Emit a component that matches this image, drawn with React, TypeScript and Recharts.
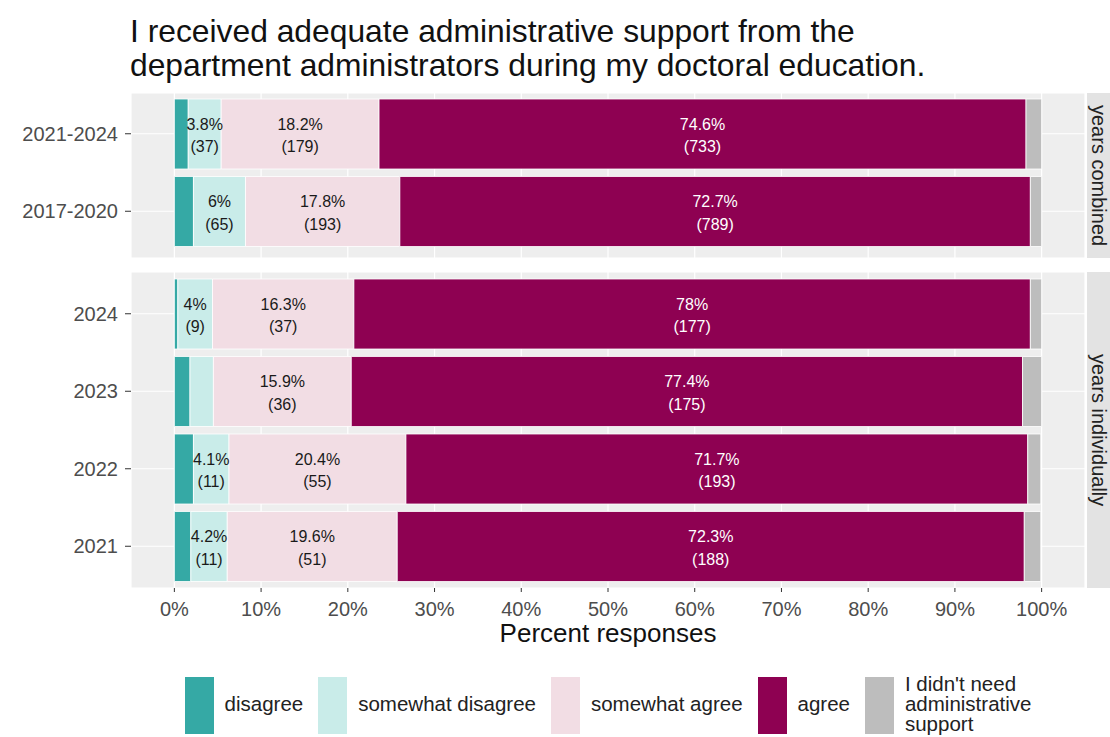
import React from 'react';
import { BarChart, Bar, XAxis, YAxis, CartesianGrid, LabelList } from 'recharts';

// rows, top to bottom
const years = ['2021-2024', '2017-2020', '2024', '2023', '2022', '2021'];
const facetOf = [
  'years combined',
  'years combined',
  'years individually',
  'years individually',
  'years individually',
  'years individually',
];
const facets = ['years combined', 'years individually'];

// percent of responses, and counts
const disagreePct = [1.6, 2.2, 0.4, 1.8, 2.2, 1.9];
const disagreeN = [16, 24, 1, 4, 6, 5];
const somewhatDisagreePct = [3.8, 6, 4, 2.7, 4.1, 4.2];
const somewhatDisagreeN = [37, 65, 9, 6, 11, 11];
const somewhatAgreePct = [18.2, 17.8, 16.3, 15.9, 20.4, 19.6];
const somewhatAgreeN = [179, 193, 37, 36, 55, 51];
const agreePct = [74.6, 72.7, 78, 77.4, 71.7, 72.3];
const agreeN = [733, 789, 177, 175, 193, 188];
const noNeedPct = [1.8, 1.3, 1.3, 2.2, 1.5, 1.9];
const noNeedN = [18, 14, 3, 5, 4, 5];

const xTicks = [0, 10, 20, 30, 40, 50, 60, 70, 80, 90, 100];

const FONT = '"Liberation Sans", Arial, Helvetica, sans-serif';

const series = [
  { key: 'disagree', name: 'disagree', color: '#35a9a5', text: '#1a1a1a', pct: disagreePct, n: disagreeN },
  { key: 'somewhatDisagree', name: 'somewhat disagree', color: '#c9ece9', text: '#1a1a1a', pct: somewhatDisagreePct, n: somewhatDisagreeN },
  { key: 'somewhatAgree', name: 'somewhat agree', color: '#f2dde4', text: '#1a1a1a', pct: somewhatAgreePct, n: somewhatAgreeN },
  { key: 'agree', name: 'agree', color: '#8e0152', text: '#ffffff', pct: agreePct, n: agreeN },
  { key: 'noNeed', name: "I didn't need\nadministrative\nsupport", color: '#bdbdbd', text: '#1a1a1a', pct: noNeedPct, n: noNeedN },
];

const buildRows = (facet: string) =>
  years
    .map((year, i) => ({ year, i }))
    .filter(({ i }) => facetOf[i] === facet)
    .map(({ year, i }) => {
      const row: any = { year };
      series.forEach((s) => {
        row[s.key] = s.pct[i];
        // small segments and the "no need" segment carry no label
        row[s.key + 'Label'] = s.pct[i] >= 3 && s.key !== 'noNeed' ? `${s.pct[i]}%|(${s.n[i]})` : '';
      });
      return row;
    });

const makeLabel = (color: string) => (props: any) => {
  const box = props.viewBox || props;
  const { x, y, width, height } = box;
  if (!props.value) return null;
  const [pct, count] = String(props.value).split('|');
  const cx = Number(x) + Number(width) / 2;
  const cy = Number(y) + Number(height) / 2;
  return (
    <g>
      <text x={cx} y={cy - 10} textAnchor="middle" dominantBaseline="central" fill={color} fontSize={16} fontFamily={FONT}>
        {pct}
      </text>
      <text x={cx} y={cy + 12.5} textAnchor="middle" dominantBaseline="central" fill={color} fontSize={16} fontFamily={FONT}>
        {count}
      </text>
    </g>
  );
};

function Panel({ facet, top, height, pad, showX }: { facet: string; top: number; height: number; pad: { top: number; bottom: number }; showX: boolean }) {
  const data = buildRows(facet);
  return (
    <>
      <div style={{ position: 'absolute', left: 0, top }}>
        <BarChart
          width={1085}
          height={height + (showX ? 40 : 0)}
          data={data}
          layout="vertical"
          margin={{ top: 0, right: 0, bottom: 0, left: 0 }}
          barSize={70}
        >
          <CartesianGrid fill="#eeeeee" stroke="#ffffff" strokeWidth={1.2} />
          <XAxis
            type="number"
            domain={[-5, 105]}
            ticks={xTicks}
            hide={!showX}
            height={40}
            tickFormatter={(v: number) => `${v}%`}
            axisLine={false}
            tickSize={4}
            tickMargin={10}
            tickLine={{ stroke: '#333333' }}
            tick={{ fontSize: 20, fill: '#4d4d4d', fontFamily: FONT }}
          />
          <YAxis
            type="category"
            dataKey="year"
            width={131}
            padding={pad}
            interval={0}
            axisLine={false}
            tickSize={6}
            tickMargin={7}
            tickLine={{ stroke: '#333333' }}
            tick={{ fontSize: 20, fill: '#4d4d4d', fontFamily: FONT }}
          />
          {series.map((s) => (
            <Bar key={s.key} dataKey={s.key} name={s.name} stackId="a" fill={s.color} stroke="#ffffff" strokeWidth={0.8} isAnimationActive={false}>
              <LabelList dataKey={s.key + 'Label'} content={makeLabel(s.text)} />
            </Bar>
          ))}
        </BarChart>
      </div>
      {/* facet strip */}
      <div
        style={{
          position: 'absolute',
          left: 1087,
          top,
          width: 23,
          height,
          background: '#e3e3e3',
          display: 'flex',
          alignItems: 'center',
          justifyContent: 'center',
        }}
      >
        <span style={{ writingMode: 'vertical-rl', fontSize: 20, lineHeight: '21px', color: '#222', fontFamily: FONT, whiteSpace: 'nowrap' }}>{facet}</span>
      </div>
    </>
  );
}

export default function App() {
  return (
    <div style={{ position: 'absolute', left: 0, top: 0, width: 1110, height: 737, background: '#ffffff', overflow: 'hidden', fontFamily: FONT }}>
      <div style={{ position: 'absolute', left: 130, top: 14, fontSize: 31.8, lineHeight: '34px', color: '#111', whiteSpace: 'nowrap' }}>
        I received adequate administrative support from the
        <br />
        department administrators during my doctoral education.
      </div>

      <Panel facet={facets[0]} top={93} height={165} pad={{ top: 2, bottom: 8 }} showX={false} />
      <Panel facet={facets[1]} top={272} height={316} pad={{ top: 3, bottom: 3 }} showX={true} />

      <div style={{ position: 'absolute', left: 131, width: 954, top: 620, textAlign: 'center', fontSize: 26, lineHeight: '26px', color: '#111' }}>
        Percent responses
      </div>

      {/* legend */}
      <div style={{ position: 'absolute', left: 131, width: 954, top: 677, display: 'flex', justifyContent: 'center', gap: 15 }}>
        {series.map((s) => (
          <div key={s.key} style={{ display: 'flex', alignItems: 'center' }}>
            <div style={{ width: 29, height: 57, background: s.color, marginRight: 11 }} />
            <div style={{ fontSize: 20.5, lineHeight: '20px', color: '#222', whiteSpace: 'pre', marginTop: -3 }}>{s.name}</div>
          </div>
        ))}
      </div>
    </div>
  );
}
